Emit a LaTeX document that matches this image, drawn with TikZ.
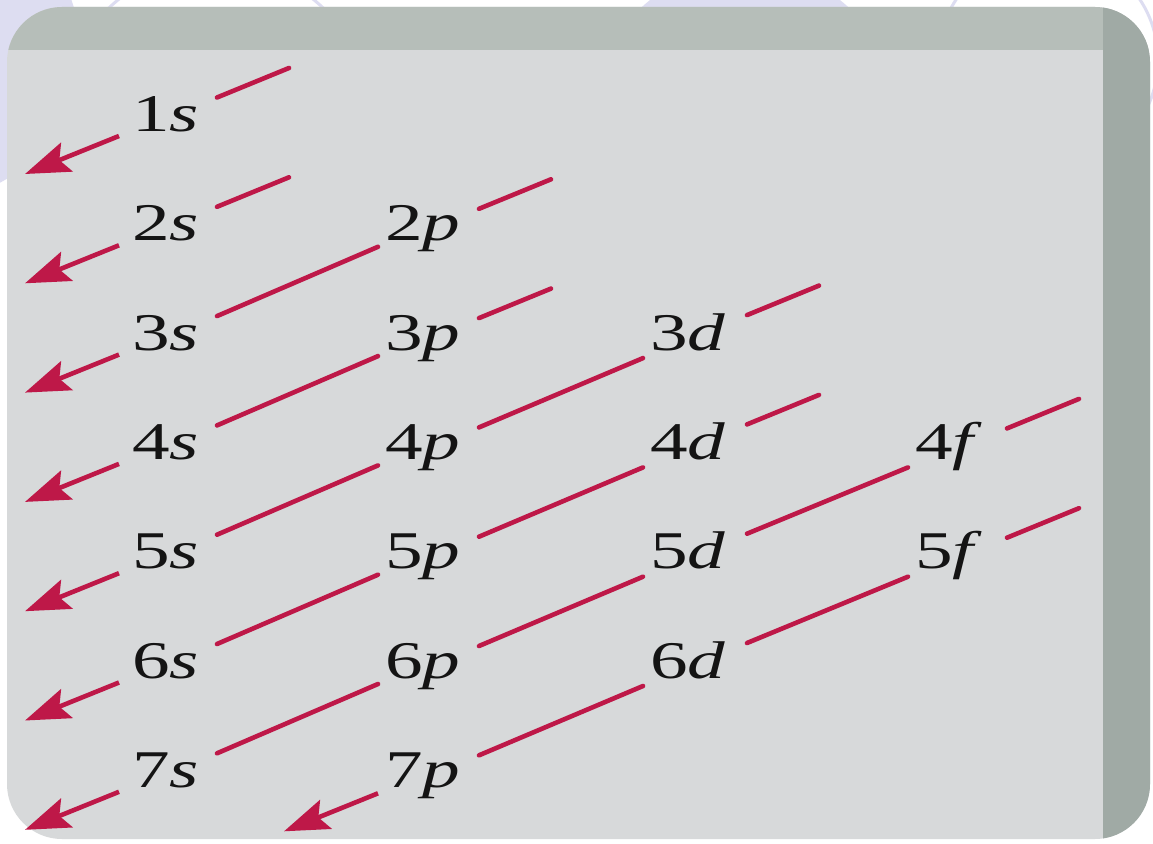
\documentclass[tikz,border=0pt]{standalone}
\usepackage{fontspec}
\setmainfont{Liberation Serif}
\newfontfamily\orbfont[FakeStretch=1.42]{Liberation Serif}
\usetikzlibrary{arrows.meta,calc}
\definecolor{orbred}{RGB}{190,24,72}
\definecolor{lav}{RGB}{221,221,241}
\definecolor{panelgray}{RGB}{215,217,218}
\definecolor{topband}{RGB}{182,190,185}
\definecolor{sideband}{RGB}{160,170,165}
\tikzset{
  orb/.style={inner sep=0pt, anchor=base west, text=black!92,
              font=\orbfont\fontsize{53pt}{60pt}\selectfont},
  conn/.style={draw=orbred, line width=4.6pt, line cap=round},
  outarrow/.style={conn, line cap=butt, -{Stealth[length=45pt,width=31pt,inset=8pt]}},
  decor/.style={draw=lav, line width=3pt},
}
\newcommand\mkorb[6]{%
  \node[orb] (#1#2) at (#3,#4) {#1\textit{#2}};
  \coordinate (#1#2-ne) at ($(#1#2.base west)+(#5)$);
  \coordinate (#1#2-sw) at ($(#1#2.base west)+(#6)$);
  \coordinate (#1#2-top) at ($(#1#2-ne)+(72,-29.5)$);
  \coordinate (#1#2-tip) at ($(#1#2-sw)+(-94,38)$);
}
\begin{document}
\begin{tikzpicture}[x=1pt,y=-1pt]
\useasboundingbox (0,0) rectangle (1153,843);
\fill[white] (0,0) rectangle (1153,843);
% faint background circles of the slide
\begin{scope}
\clip (0,0) rectangle (1153,843);
\fill[lav] (-70,50) circle (150);
\fill[lav] (745,120) circle (153);
\draw[decor] (216,120) circle (155);
\draw[decor] (1048,60) circle (110);
\end{scope}
% the scanned page
\begin{scope}
\clip[rounded corners=55pt] (7,7) rectangle (1150,839);
\fill[panelgray] (0,0) rectangle (1153,843);
\fill[topband] (0,0) rectangle (1153,50);
\fill[sideband] (1103,0) rectangle (1153,843);
\end{scope}
% orbitals: digit, letter, x, baseline, ne offset, sw offset
\mkorb{1}{s}{132}{131.5}{85,-34}{-13,4.5}
\mkorb{2}{s}{132}{240.8}{85,-34}{-13,4.5}
\mkorb{3}{s}{132}{350.1}{85,-34}{-13,4.5}
\mkorb{4}{s}{132}{459.4}{85,-34}{-13,4.5}
\mkorb{5}{s}{132}{568.7}{85,-34}{-13,4.5}
\mkorb{6}{s}{132}{678.0}{85,-34}{-13,4.5}
\mkorb{7}{s}{132}{787.3}{85,-34}{-13,4.5}
\mkorb{2}{p}{385}{240.8}{94,-32}{-7,6}
\mkorb{3}{p}{385}{350.1}{94,-32}{-7,6}
\mkorb{4}{p}{385}{459.4}{94,-32}{-7,6}
\mkorb{5}{p}{385}{568.7}{94,-32}{-7,6}
\mkorb{6}{p}{385}{678.0}{94,-32}{-7,6}
\mkorb{7}{p}{385}{787.3}{94,-32}{-7,6}
\mkorb{3}{d}{650}{350.1}{97,-35}{-7,8}
\mkorb{4}{d}{650}{459.4}{97,-35}{-7,8}
\mkorb{5}{d}{650}{568.7}{97,-35}{-7,8}
\mkorb{6}{d}{650}{678.0}{97,-35}{-7,8}
\mkorb{4}{f}{915}{459.4}{92,-31}{-7,8}
\mkorb{5}{f}{915}{568.7}{92,-31}{-7,8}
% short strokes entering each diagonal
\foreach \o in {1s,2s,2p,3p,3d,4d,4f,5f}
  \draw[conn] (\o-ne) -- (\o-top);
% diagonals between orbitals
\foreach \a/\b in {2p/3s,3p/4s,3d/4p,4p/5s,4d/5p,5p/6s,4f/5d,5d/6p,6p/7s,5f/6d,6d/7p}
  \draw[conn] (\a-sw) -- (\b-ne);
% arrows leaving each diagonal
\foreach \o in {1s,2s,3s,4s,5s,6s,7s,7p}
  \draw[outarrow] (\o-sw) -- (\o-tip);
\end{tikzpicture}
\end{document}
